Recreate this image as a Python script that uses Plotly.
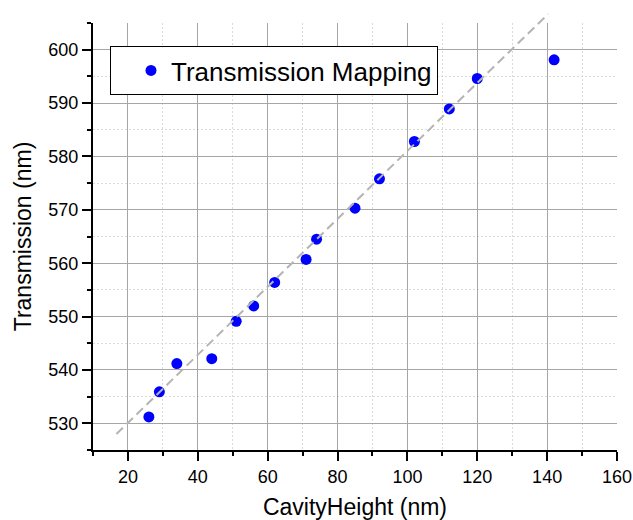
import plotly.graph_objects as go

# Measured cavity heights (nm) and corresponding transmission peaks (nm)
cavity_height = [26, 29, 34, 44, 51, 56, 62, 71, 74, 85, 92, 102, 112, 120, 142]
transmission = [531.2, 535.9, 541.2, 542.1, 549.1, 552.0, 556.4, 560.7,
                564.5, 570.3, 575.8, 582.8, 588.9, 594.6, 598.1]

# Linear trend guide (end points)
trend_x = [16.7, 140.3]
trend_y = [528.0, 606.7]

x_range = [10, 160]
y_range = [525, 605]

FONT = "Arial, Liberation Sans, sans-serif"
W, H = 633, 520
M_L, M_R, M_T, M_B = 93, 16, 12, 70
plot_w = W - M_L - M_R
plot_h = H - M_T - M_B
main_top_px = 23
d_top = (H - M_B - main_top_px) / plot_h  # fraction of the plot height used by the main axes
y2_range = [y_range[0], y_range[0] + (y_range[1] - y_range[0]) / d_top]

fig = go.Figure()

fig.add_trace(go.Scatter(
    x=cavity_height, y=transmission, mode="markers",
    name="Transmission Mapping",
    marker=dict(color="#0000ff", size=11, line=dict(width=0)),
    xaxis="x", yaxis="y", cliponaxis=False,
))

# Trend line sits on an overlay of the same scale that reaches a little higher
fig.add_trace(go.Scatter(
    x=trend_x, y=trend_y, mode="lines", showlegend=False,
    line=dict(color="#b4b4b4", width=2, dash="9px,5px"),
    xaxis="x2", yaxis="y2", hoverinfo="skip",
))

axis_common = dict(
    showline=True, linecolor="black", linewidth=2,
    ticks="outside", ticklen=9, tickwidth=2, tickcolor="black",
    tickfont=dict(family=FONT, size=18, color="black"),
    showgrid=True, gridcolor="#a6a6a6", gridwidth=1,
    zeroline=False, mirror=False,
    minor=dict(ticks="outside", ticklen=4, tickwidth=2, tickcolor="black",
               showgrid=True, gridcolor="#dadada", griddash="2px,2px", gridwidth=1),
)

fig.update_layout(
    width=W, height=H,
    margin=dict(l=M_L, r=M_R, t=M_T, b=M_B, autoexpand=False),
    paper_bgcolor="white", plot_bgcolor="rgba(0,0,0,0)",
    font=dict(family=FONT, color="black"),
    xaxis=dict(
        range=x_range, domain=[0, 1], anchor="y",
        tick0=0, dtick=20, **axis_common,
        title=dict(text="CavityHeight (nm)", font=dict(family=FONT, size=23), standoff=14),
    ),
    yaxis=dict(
        range=y_range, domain=[0, d_top], anchor="x",
        tick0=0, dtick=10, **axis_common,
        title=dict(text="Transmission (nm)", font=dict(family=FONT, size=23), standoff=10),
    ),
    xaxis2=dict(range=x_range, domain=[0, 1], anchor="y2", visible=False, matches="x"),
    yaxis2=dict(range=y2_range, domain=[0, 1], anchor="x2", visible=False),
    showlegend=True,
    legend=dict(
        x=(110 - M_L) / plot_w, y=(H - M_B - 46) / plot_h,
        xanchor="left", yanchor="top",
        bordercolor="black", borderwidth=1, bgcolor="white",
        font=dict(family=FONT, size=26, color="black"),
        indentation=20, itemsizing="trace",
        entrywidth=272,
    ),
)

fig.update_xaxes(minor=dict(dtick=10), selector=dict(anchor="y"))
fig.update_yaxes(minor=dict(dtick=5), selector=dict(anchor="x"))

fig.write_html("out.html")
